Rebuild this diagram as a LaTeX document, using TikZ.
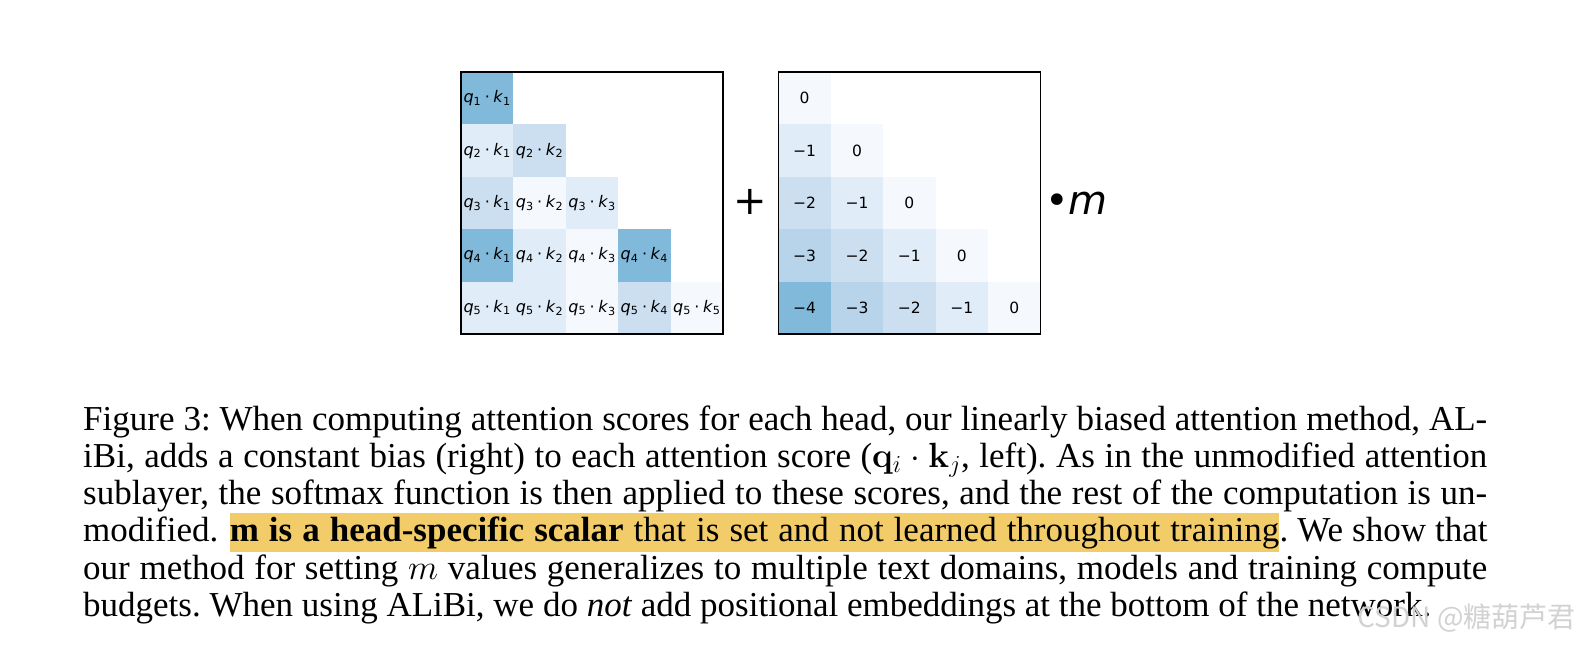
\RequirePackage{fix-cm}
\documentclass[tikz,border=0pt]{standalone}
\usepackage[no-math]{fontspec}
\setmainfont{Liberation Serif}
\newfontfamily\mplfont{DejaVu Sans}[ItalicFont={DejaVu Sans Oblique}]
\newfontfamily\cjkfont{Noto Sans CJK SC}
\usetikzlibrary{positioning}
\frenchspacing

\definecolor{bl0}{HTML}{F5F9FE}
\definecolor{bl1}{HTML}{E0ECF8}
\definecolor{bl2}{HTML}{CCDFF1}
\definecolor{bl3}{HTML}{B7D4EA}
\definecolor{bl4}{HTML}{80B9DA}
\definecolor{hlyellow}{RGB}{243,204,106}

\newcommand{\qk}[2]{\textit{q}\textsubscript{#1}\hspace{0.22em}·\hspace{0.22em}\textit{k}\textsubscript{#2}}
\newcommand{\justline}[2][1404pt]{\makebox[#1][s]{#2}}

\tikzset{
  cell/.style={minimum size=52.4pt,inner sep=0pt,outer sep=0pt,draw=none},
  cellfont/.style={font=\mplfont\fontsize{16}{16}\selectfont},
  numfont/.style={font=\mplfont\fontsize{15.5}{16}\selectfont},
  matframe/.style={draw=black,line width=1.3pt,minimum size=262pt,inner sep=0pt},
  capline/.style={anchor=base west,inner sep=0pt,font=\fontsize{35}{37}\selectfont},
  hlbox/.style={capline,fill=hlyellow,text height=28.5pt,text depth=10pt}
}

\begin{document}
\begin{tikzpicture}[x=1pt,y=-1pt]
  \useasboundingbox[fill=white] (0,0) rectangle (1579,649);
  % attention scores (left)
  \foreach \i/\j/\c in {1/1/bl4, 2/1/bl1, 2/2/bl2, 3/1/bl2, 3/2/bl0, 3/3/bl1,
      4/1/bl4, 4/2/bl1, 4/3/bl0, 4/4/bl4, 5/1/bl1, 5/2/bl1, 5/3/bl0, 5/4/bl2, 5/5/bl0}{
    \node[cell,cellfont,fill=\c] (s\i\j) at ({461+(\j-0.5)*52.4},{72+(\i-0.5)*52.4}) {\qk{\i}{\j}};
  }
  \node[matframe] (scores) at (592,203) {};
  % linear bias (right)
  \foreach \i in {1,...,5}{
    \foreach \j in {1,...,\i}{
      \pgfmathtruncatemacro\d{\i-\j}
      \node[cell,numfont,fill=bl\d] (b\i\j) at ({778.4+(\j-0.5)*52.4},{72+(\i-0.5)*52.4})
        {\ifnum\d=0 0\else −\d\fi};
    }
  }
  \node[matframe] (bias) at (909.4,203) {};
  \node[inner sep=0pt,font=\mplfont\fontsize{40}{40}\selectfont] (plus) at (750.5,202) {+};
  \node[anchor=base west,inner sep=0pt,font=\mplfont\fontsize{40}{40}\selectfont] (slope) at (1045,214) {•\textit{m}};

  % caption
  \node[capline] (cap1) at (83,430) {\justline{Figure 3: When computing attention scores for each head, our linearly biased attention method, AL-}};
  \node[capline] (cap2) at (83,467.3) {\justline{iBi, adds a constant bias (right) to each attention score ($\mathbf{q}_i\cdot\mathbf{k}_j$, left). As in the unmodified attention}};
  \node[capline] (cap3) at (83,504.6) {\justline{sublayer, the softmax function is then applied to these scores, and the rest of the computation is un-}};
  \node[capline] (cap4a) at (83,541.9) {modified.};
  \node[hlbox] (cap4b) at (229.6,541.9) {\justline[1049.4pt]{\textbf{m is a head-specific scalar} that is set and not learned throughout training}};
  \node[capline] (cap4c) at (cap4b.base east) {\justline[208pt]{. We show that}};
  \node[capline] (cap5) at (83,579.2) {\justline{our method for setting $m$ values generalizes to multiple text domains, models and training compute}};
  \node[capline] (cap6) at (83,616.5) {budgets. When using ALiBi, we do \textit{not} add positional embeddings at the bottom of the network.};
  % watermark
  \node[anchor=east,inner sep=0pt,text=gray!35,font=\cjkfont\fontsize{28}{28}\selectfont] (mark) at (1576,618) {CSDN @糖葫芦君};
\end{tikzpicture}
\end{document}
